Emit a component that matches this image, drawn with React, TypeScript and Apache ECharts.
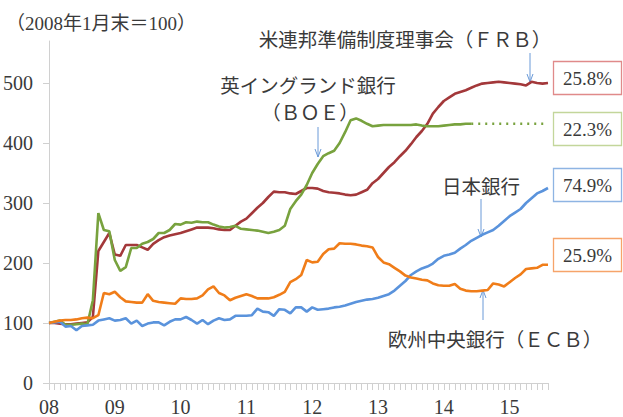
import React, { useEffect, useRef } from "react";
import * as echarts from "echarts";

// Tick labels (years) and monthly categories Jan 2008 – Aug 2015
const yearLabels = ["08", "09", "10", "11", "12", "13", "14", "15"];
const monthCount = 92;
const categories: string[] = [];
for (let i = 0; i < monthCount; i++) {
  const y = 2008 + Math.floor(i / 12);
  const m = (i % 12) + 1;
  categories.push(`${y}-${m < 10 ? "0" + m : m}`);
}

// Federal Reserve (FRB)
const frb = [
  100, 100, 99, 98, 98, 99, 100, 101, 110, 220, 235, 250,
  214, 212, 230, 230, 230, 226, 222, 232, 238, 243, 246, 248,
  250, 253, 256, 259, 259, 259, 258, 256, 255, 255, 262, 269,
  274, 283, 292, 300, 310, 319, 318, 318, 316, 315, 320, 325,
  325, 324, 320, 318, 317, 316, 314, 313, 314, 318, 322, 333,
  340, 350, 360, 368, 378, 387, 398, 410, 420, 432, 449, 460,
  470, 476, 482, 485, 488, 492, 496, 499, 500, 501, 502, 501,
  500, 499, 498, 496, 502, 500, 499, 500,
];

// Bank of England (BOE) – data through Jun 2014
const boe = [
  100, 102, 104, 97, 97, 98, 99, 98, 138, 283, 255, 253,
  205, 187, 193, 225, 225, 232, 235, 240, 250, 250, 255, 265,
  264, 268, 267, 269, 268, 268, 264, 261, 259, 260, 262, 257,
  256, 255, 254, 252, 250, 252, 255, 262, 290, 303, 314, 330,
  350, 365, 378, 383, 387, 400, 418, 438, 441, 437, 432, 428,
  429, 430, 430, 430, 430, 430, 430, 431, 429, 428, 428, 428,
  429, 430, 431, 431, 432, 432,
];
// BOE held flat afterwards (dotted)
const boeHeld = 432;

// Bank of Japan
const boj = [
  100, 101, 102, 94, 95, 88, 95, 96, 97, 104, 106, 108,
  104, 105, 108, 99, 104, 95, 99, 101, 101, 96, 102, 106,
  106, 110, 105, 99, 105, 98, 104, 108, 105, 106, 112, 112,
  112, 113, 124, 119, 118, 112, 123, 122, 116, 126, 126, 119,
  126, 122, 123, 124, 126, 127, 129, 132, 135, 137, 139, 140,
  142, 145, 148, 154, 162, 170, 180, 186, 191, 194, 199, 207,
  212, 214, 217, 224, 230, 237, 242, 247, 251, 255, 262, 270,
  278, 284, 290, 300, 308, 316, 320, 325,
];

// European Central Bank (ECB)
const ecb = [
  100, 102, 104, 105, 105, 106, 108, 109, 108, 113, 150, 148,
  152, 143, 136, 135, 134, 134, 148, 137, 135, 134, 133, 132,
  141, 140, 140, 141, 146, 156, 161, 150, 146, 138, 142, 145,
  148, 145, 141, 141, 141, 143, 147, 152, 168, 173, 180, 205,
  201, 202, 215, 223, 224, 233, 232, 232, 231, 229, 228, 226,
  210, 201, 198, 192, 186, 179, 176, 174, 172, 171, 166, 163,
  162, 162, 165, 157, 154, 153, 153, 154, 155, 166, 164, 161,
  168, 175, 181, 190, 191, 192, 197, 197,
];

const yTicks = [0, 100, 200, 300, 400, 500];

const boxLabels = [
  { text: "25.8%", color: "#e08a8a", y: 61 },
  { text: "22.3%", color: "#c3d69b", y: 112 },
  { text: "74.9%", color: "#8eb4e3", y: 168 },
  { text: "25.9%", color: "#f6a46a", y: 238 },
];

const CJK = '"Noto Sans CJK JP", sans-serif';
const SERIF = '"Liberation Serif", "DejaVu Serif", serif';
const MIXED = '"Liberation Serif", "Noto Sans CJK JP", serif';
const TXT = "#3a3a3a";
const ARROW = "#6a9ad8";

function arrow(x: number, y1: number, y2: number) {
  const dir = y2 > y1 ? 1 : -1;
  return {
    type: "group",
    children: [
      {
        type: "line",
        shape: { x1: x, y1, x2: x, y2 },
        style: { stroke: ARROW, lineWidth: 1 },
      },
      {
        type: "polyline",
        shape: {
          points: [
            [x - 3, y2 - dir * 8],
            [x, y2],
            [x + 3, y2 - dir * 8],
          ],
        },
        style: { stroke: ARROW, lineWidth: 1, fill: null },
      },
    ],
  };
}

function label(text: string, x: number, y: number, size = 19, family = CJK) {
  return {
    type: "text",
    x,
    y,
    style: {
      text,
      fill: TXT,
      fontSize: size,
      fontFamily: family,
      textAlign: "center",
      textVerticalAlign: "middle",
    },
  };
}

export default function App() {
  const ref = useRef<HTMLDivElement>(null);
  useEffect(() => {
    if (!ref.current) return;
    const chart = echarts.init(ref.current, undefined, { renderer: "svg" });
    const lastBoe = boe.length - 1;
    const boeDotted = categories.map((_, i) => (i >= lastBoe ? boeHeld : null));

    const graphics: any[] = [
      label("（2008年1月末＝100）", 101, 23, 19, MIXED),
      label("米連邦準備制度理事会（ＦＲＢ）", 405, 38, 19.5),
      arrow(530, 53, 82),
      label("英イングランド銀行", 308, 84, 19.5),
      label("（ＢＯＥ）", 310, 111, 19.5),
      arrow(318, 127, 157),
      label("日本銀行", 481, 185, 19.5),
      arrow(481, 199, 237),
      label("欧州中央銀行（ＥＣＢ）", 495, 338, 19.5),
      arrow(483, 320, 290),
    ];
    boxLabels.forEach((b) => {
      graphics.push({
        type: "rect",
        shape: { x: 553.5, y: b.y + 0.5, width: 68, height: 33 },
        style: { stroke: b.color, lineWidth: 1.3, fill: "#fff" },
      });
      graphics.push({
        type: "text",
        x: 587.5,
        y: b.y + 17,
        style: {
          text: b.text,
          fill: TXT,
          fontSize: 19,
          fontFamily: SERIF,
          textAlign: "center",
          textVerticalAlign: "middle",
        },
      });
    });

    const lineSeries = (name: string, data: any[], color: string, extra: any = {}) => ({
      name,
      type: "line",
      data,
      symbol: "none",
      connectNulls: false,
      lineStyle: { color, width: 2.6, ...extra },
      itemStyle: { color },
    });

    chart.setOption({
      animation: false,
      backgroundColor: "#ffffff",
      grid: { left: 48, right: 75, top: 41, bottom: 34, containLabel: false },
      xAxis: {
        type: "category",
        data: categories,
        boundaryGap: false,
        axisLine: { show: true, lineStyle: { color: "#d0d0d0", width: 1 } },
        axisTick: {
          show: true,
          interval: 0,
          length: 7,
          lineStyle: { color: "#d0d0d0" },
        },
        axisLabel: {
          interval: (idx: number) => idx % 12 === 0,
          formatter: (_v: string, idx: number) => yearLabels[Math.floor(idx / 12)] ?? "",
          color: TXT,
          fontFamily: SERIF,
          fontSize: 20,
          margin: 14,
        },
        splitLine: { show: false },
      },
      yAxis: {
        type: "value",
        min: 0,
        max: 570,
        interval: 100,
        axisLine: { show: true, lineStyle: { color: "#d0d0d0", width: 1 } },
        axisTick: { show: true, length: 6, lineStyle: { color: "#d0d0d0" } },
        axisLabel: {
          color: TXT,
          fontFamily: SERIF,
          fontSize: 20,
          margin: 16,
          showMaxLabel: false,
          formatter: (v: number) => (yTicks.includes(v) ? String(v) : ""),
        },
        splitLine: { show: false },
      },
      series: [
        lineSeries("FRB", frb, "#a3383a"),
        lineSeries("BOE", boe, "#78a23e"),
        lineSeries("BOE (held)", boeDotted, "#78a23e", { type: [2, 5], width: 2.6 }),
        lineSeries("BOJ", boj, "#5a93dc"),
        lineSeries("ECB", ecb, "#f07d19"),
      ],
      graphic: graphics,
    });
    return () => chart.dispose();
  }, []);
  return <div ref={ref} style={{ width: 623, height: 417, position: "fixed", left: 0, top: 0 }} />;
}
